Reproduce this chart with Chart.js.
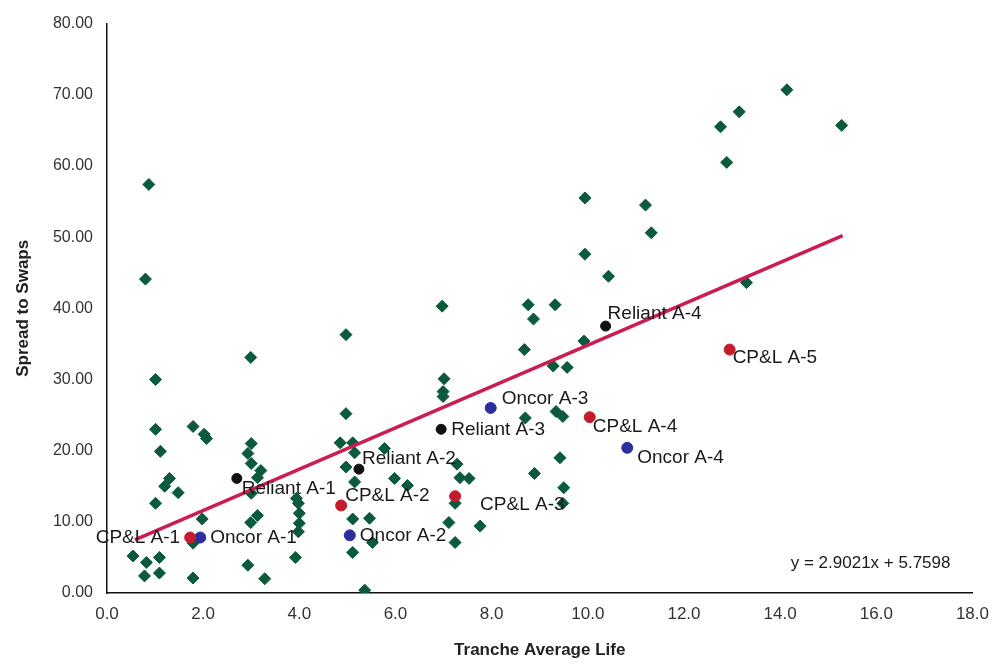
<!DOCTYPE html>
<html>
<head>
<meta charset="utf-8">
<script src="https://cdn.jsdelivr.net/npm/chart.js@4.4.0/dist/chart.umd.min.js"></script>
<style>
  html, body { margin: 0; padding: 0; background: #fff; }
  #wrap { width: 1000px; height: 665px; position: relative; }
</style>
</head>
<body>
<div id="wrap"><canvas id="myChart"></canvas></div>
<script>
// all other utility tranches (green diamonds)
var otherX = [0.87, 0.80, 1.01, 1.01, 1.11, 1.30, 1.20, 1.48, 1.01, 0.54, 0.82, 1.09, 0.78, 1.09,
    1.79, 2.02, 2.07, 1.98, 1.79, 1.79,
    2.99, 3.00, 2.93, 3.00, 3.20, 3.13, 3.00, 3.13, 2.99, 2.93, 3.28,
    3.94, 3.98, 4.00, 4.00, 3.98, 3.92,
    4.97, 4.97, 4.85, 5.11, 5.15, 4.97, 5.77, 5.98, 5.15, 6.25, 5.11, 5.46, 5.52, 5.11, 5.36,
    6.97, 7.01, 6.99, 6.99, 7.28, 7.34, 7.53, 7.24, 7.76, 7.11, 7.24,
    8.76, 9.32, 8.87, 8.68, 9.28, 9.57, 9.34, 9.48, 8.70, 9.42, 8.89, 9.50, 9.48, 9.92,
    9.94, 11.20, 11.32, 9.94, 10.43, 14.14, 13.15, 12.76, 15.28, 12.89, 13.30];
var otherY = [57.4, 44.1, 30.0, 23.0, 19.9, 16.1, 15.0, 14.1, 12.6, 5.2, 4.3, 5.0, 2.4, 2.8,
    23.4, 22.3, 21.7, 10.4, 7.0, 2.1,
    33.1, 21.0, 19.6, 18.2, 17.2, 16.2, 14.0, 10.9, 9.9, 3.9, 2.0,
    13.3, 12.6, 11.2, 9.8, 8.6, 5.0,
    36.3, 25.2, 21.1, 21.1, 19.7, 17.7, 20.3, 16.1, 15.6, 15.1, 10.4, 10.5, 7.1, 5.7, 0.4,
    40.3, 30.1, 28.3, 27.6, 18.1, 16.2, 16.1, 12.6, 9.4, 9.9, 7.1,
    40.5, 40.5, 38.5, 34.2, 31.9, 31.7, 25.5, 24.8, 24.6, 19.0, 16.8, 14.8, 12.6, 35.4,
    55.5, 54.5, 50.6, 47.6, 44.5, 70.7, 67.6, 65.5, 65.7, 60.5, 43.6];

var cplNames = ['CP&L A-1', 'CP&L A-2', 'CP&L A-3', 'CP&L A-4', 'CP&L A-5'];
var cplX = [1.73, 4.87, 7.24, 10.04, 12.95];
var cplY = [7.8, 12.3, 13.6, 24.7, 34.2];

var oncorNames = ['Oncor A-1', 'Oncor A-2', 'Oncor A-3', 'Oncor A-4'];
var oncorX = [1.94, 5.05, 7.98, 10.82];
var oncorY = [7.8, 8.1, 26.0, 20.4];

var reliantNames = ['Reliant A-1', 'Reliant A-2', 'Reliant A-3', 'Reliant A-4'];
var reliantX = [2.70, 5.24, 6.95, 10.37];
var reliantY = [16.1, 17.4, 23.0, 37.5];

// regression line ends, as drawn
var trendX = [0.58, 15.30];
var trendY = [7.45, 50.20];
var equationText = 'y = 2.9021x + 5.7598';

var xTicks = [0, 2, 4, 6, 8, 10, 12, 14, 16, 18];
var yTicks = [0, 10, 20, 30, 40, 50, 60, 70, 80];

function toPoints(xs, ys) {
    var pts = [];
    for (var i = 0; i < xs.length; i++) pts.push({ x: xs[i], y: ys[i] });
    return pts;
}

var FONT = "'Liberation Sans', Arial, Helvetica, sans-serif";

// label placement next to each named point: [dx, dy, align]
var labelOffsets = {
    'CP&L A-1': [-10, 0, 'right'], 'CP&L A-2': [4, -10, 'left'], 'CP&L A-3': [25, 9, 'left'],
    'CP&L A-4': [3, 10, 'left'], 'CP&L A-5': [3, 8, 'left'],
    'Oncor A-1': [10, 0, 'left'], 'Oncor A-2': [10, 0, 'left'], 'Oncor A-3': [11, -9, 'left'],
    'Oncor A-4': [10, 10, 'left'],
    'Reliant A-1': [5, 10, 'left'], 'Reliant A-2': [3, -10, 'left'], 'Reliant A-3': [10, 0, 'left'],
    'Reliant A-4': [2, -12, 'left']
};

var pointLabels = {
    id: 'pointLabels',
    afterDatasetsDraw: function (chart) {
        var ctx = chart.ctx;
        var xs = chart.scales.x, ys = chart.scales.y;
        var groups = [[cplNames, cplX, cplY], [oncorNames, oncorX, oncorY], [reliantNames, reliantX, reliantY]];
        ctx.save();
        ctx.font = '19px ' + FONT;
        ctx.fillStyle = '#1a1a1a';
        ctx.textBaseline = 'middle';
        groups.forEach(function (g) {
            for (var i = 0; i < g[0].length; i++) {
                var off = labelOffsets[g[0][i]];
                ctx.textAlign = off[2];
                ctx.fillText(g[0][i], xs.getPixelForValue(g[1][i]) + off[0], ys.getPixelForValue(g[2][i]) + off[1]);
            }
        });
        // trend equation
        var area = chart.chartArea;
        ctx.font = '17px ' + FONT;
        ctx.textAlign = 'right';
        ctx.fillText(equationText, area.right - 22, area.bottom - 30);
        ctx.restore();
    }
};

var chartData = {
    datasets: [
        {
            label: 'CP&L', data: toPoints(cplX, cplY), order: 1,
            pointStyle: 'circle', pointRadius: 5.5, backgroundColor: '#c41c2c', borderColor: '#c41c2c'
        },
        {
            label: 'Oncor', data: toPoints(oncorX, oncorY), order: 1,
            pointStyle: 'circle', pointRadius: 5.5, backgroundColor: '#2b2f9e', borderColor: '#2b2f9e'
        },
        {
            label: 'Reliant', data: toPoints(reliantX, reliantY), order: 1,
            pointStyle: 'circle', pointRadius: 5, backgroundColor: '#111', borderColor: '#111'
        },
        {
            type: 'line', label: 'Trend', data: toPoints(trendX, trendY), order: 2,
            borderColor: '#cc1d52', borderWidth: 3.5, pointRadius: 0, fill: false
        },
        {
            label: 'Other', data: toPoints(otherX, otherY), order: 3,
            pointStyle: 'rectRot', pointRadius: 6, backgroundColor: '#0c5a3c', borderColor: '#0c5a3c'
        }
    ]
};

var myChart = new Chart(document.getElementById('myChart').getContext('2d'), {
    type: 'scatter',
    data: chartData,
    plugins: [pointLabels],
    options: {
        responsive: true,
        maintainAspectRatio: false,
        animation: false,
        layout: { padding: { top: 22, right: 15, bottom: 0, left: 0 } },
        plugins: { legend: { display: false }, tooltip: { enabled: false } },
        scales: {
            x: {
                type: 'linear', min: 0, max: 18,
                afterBuildTicks: function (s) { s.ticks = xTicks.map(function (v) { return { value: v }; }); },
                afterFit: function (s) { s.height = 72; },
                grid: { display: false, drawTicks: false },
                border: { display: true, color: '#111', width: 1.5 },
                ticks: {
                    padding: 11, color: '#333', font: { family: FONT, size: 17 },
                    callback: function (v) { return v.toFixed(1); }
                },
                title: {
                    display: true, text: 'Tranche Average Life', color: '#222',
                    font: { family: FONT, size: 17, weight: 'bold' }, padding: { top: 0, bottom: 4 }
                }
            },
            y: {
                type: 'linear', min: 0, max: 80,
                afterBuildTicks: function (s) { s.ticks = yTicks.map(function (v) { return { value: v }; }); },
                afterFit: function (s) { s.width = 107; },
                grid: { display: false, drawTicks: false },
                border: { display: true, color: '#111', width: 1.5 },
                ticks: {
                    padding: 14, color: '#333', font: { family: FONT, size: 16 },
                    callback: function (v) { return v.toFixed(2); }
                },
                title: {
                    display: true, text: 'Spread to Swaps', color: '#222',
                    font: { family: FONT, size: 17, weight: 'bold' }, padding: { top: 13, bottom: 0 }
                }
            }
        }
    }
});
</script>
</body>
</html>
